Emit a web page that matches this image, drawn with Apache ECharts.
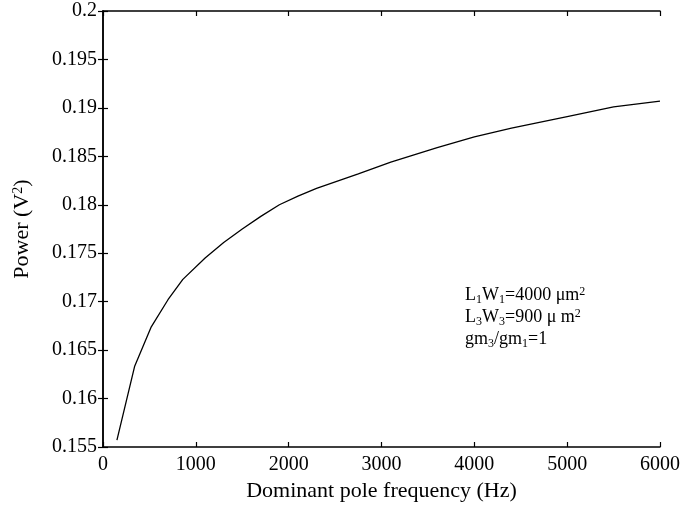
<!DOCTYPE html>
<html>
<head>
<meta charset="utf-8">
<script src="https://cdn.jsdelivr.net/npm/echarts@6/dist/echarts.min.js"></script>
<style>html,body{margin:0;padding:0;background:#fff;}#c{width:700px;height:510px;}</style>
</head>
<body>
<div id="c"></div>
<script>
// Data
var freqHz = [150, 340, 520, 700, 860, 1100, 1300, 1500, 1700, 1900, 2100, 2300, 2750, 3100, 3600, 4000, 4400, 5000, 5500, 6000];
var powerV2 = [0.1557, 0.1633, 0.1674, 0.1702, 0.1723, 0.1745, 0.1761, 0.1775, 0.1788, 0.1800, 0.1809, 0.1817, 0.1832, 0.1844, 0.1859, 0.1870, 0.1879, 0.1891, 0.1901, 0.1907];
var xTicks = [0, 1000, 2000, 3000, 4000, 5000, 6000];
var yTicks = [0.155, 0.16, 0.165, 0.17, 0.175, 0.18, 0.185, 0.19, 0.195, 0.2];

var FONT = '"Liberation Serif", "Times New Roman", serif';
var chart = echarts.init(document.getElementById('c'));
var pts = freqHz.map(function (x, i) { return [x, powerV2[i]]; });

function yFmt(v) { return String(+v.toFixed(3)); }
function xFmt(v) { return String(Math.round(v)); }

var baseX = {
  type: 'value', min: xTicks[0], max: xTicks[xTicks.length - 1], interval: 1000,
  axisLine: { show: true, lineStyle: { color: '#000', width: 1.5 } },
  axisTick: { show: true, inside: true, length: 5, lineStyle: { color: '#000', width: 1.2 } },
  splitLine: { show: false }
};
var baseY = {
  type: 'value', min: yTicks[0], max: yTicks[yTicks.length - 1], interval: 0.005,
  axisLine: { show: true, lineStyle: { color: '#000', width: 1.5 } },
  axisTick: { show: true, inside: true, length: 5, lineStyle: { color: '#000', width: 1.2 } },
  splitLine: { show: false }
};

chart.setOption({
  animation: false,
  backgroundColor: '#fff',
  grid: { left: 103, right: 40, top: 11, bottom: 63, containLabel: false },
  xAxis: [
    Object.assign({}, baseX, {
      position: 'bottom',
      axisLabel: { color: '#000', fontFamily: FONT, fontSize: 20, margin: 8, formatter: xFmt },
      name: 'Dominant pole frequency (Hz)',
      nameLocation: 'middle', nameGap: 25,
      nameTextStyle: { color: '#000', fontFamily: FONT, fontSize: 22 }
    }),
    Object.assign({}, baseX, { position: 'top', axisLabel: { show: false } })
  ],
  yAxis: [
    Object.assign({}, baseY, {
      position: 'left',
      axisLabel: { color: '#000', fontFamily: FONT, fontSize: 20, margin: 6, formatter: yFmt },
      name: 'Power (V{sup|2})',
      nameLocation: 'middle', nameGap: 70, nameRotate: 90,
      nameTextStyle: {
        color: '#000', fontFamily: FONT, fontSize: 22,
        rich: { sup: { fontFamily: FONT, fontSize: 14, verticalAlign: 'top', color: '#000' } }
      }
    }),
    Object.assign({}, baseY, { position: 'right', axisLabel: { show: false } })
  ],
  series: [{
    type: 'line', data: pts, xAxisIndex: 0, yAxisIndex: 0,
    showSymbol: false, symbol: 'none', smooth: false,
    lineStyle: { color: '#000', width: 1.3 }
  }],
  graphic: [{
    type: 'text', left: 465, top: 284,
    style: {
      text: '{a|L}{b|1}{a|W}{b|1}{a|=4000 \u03bcm}{c|2}\n{a|L}{b|3}{a|W}{b|3}{a|=900 \u03bc m}{c|2}\n{a|gm}{b|3}{a|/gm}{b|1}{a|=1}',
      fill: '#000',
      font: '18px ' + FONT,
      rich: {
        a: { fontFamily: FONT, fontSize: 18, lineHeight: 22, color: '#000' },
        b: { fontFamily: FONT, fontSize: 12, lineHeight: 22, verticalAlign: 'bottom', color: '#000' },
        c: { fontFamily: FONT, fontSize: 12, lineHeight: 22, verticalAlign: 'top', color: '#000', padding: [2, 0, 0, 0] }
      }
    }
  }]
});
</script>
</body>
</html>
